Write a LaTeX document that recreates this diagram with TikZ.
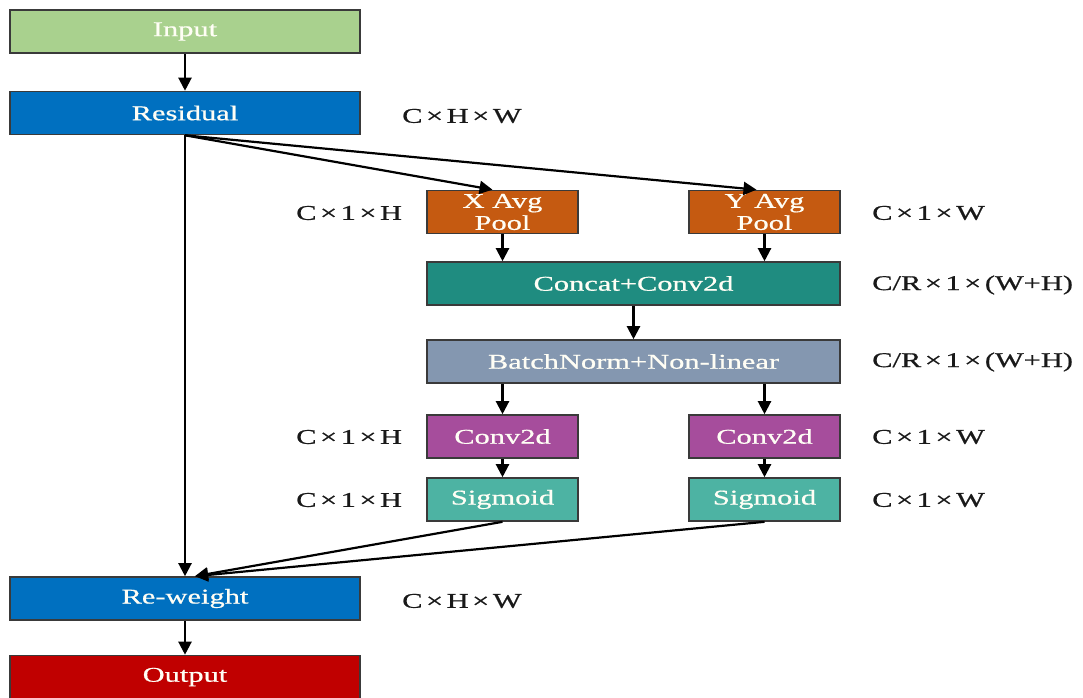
\documentclass[tikz,border=0pt]{standalone}
\usepackage{fontspec}
\setmainfont{Liberation Serif}[FakeStretch=1.45,FakeBold=0.7]
\usetikzlibrary{arrows.meta}
\definecolor{cinput}{HTML}{A9D18E}
\definecolor{cblue}{HTML}{0070C0}
\definecolor{cpool}{HTML}{C55A11}
\definecolor{cconcat}{HTML}{1F8C80}
\definecolor{cbn}{HTML}{8497B0}
\definecolor{cconv}{HTML}{A64D9C}
\definecolor{csig}{HTML}{4DB3A3}
\definecolor{cout}{HTML}{C00000}
\definecolor{cedge}{HTML}{3A3A3A}
\newcommand{\tms}{\,×\,}
\begin{document}
\begin{tikzpicture}[x=1pt,y=-1pt,
  blk/.style={draw=cedge, line width=1.6pt, rectangle, inner sep=0pt,
    text=white!96!yellow, align=center,
    font=\fontsize{21}{22}\selectfont},
  wide/.style={blk, minimum width=350pt, minimum height=43pt},
  mid/.style={blk, minimum width=413pt, minimum height=43pt},
  small/.style={blk, minimum width=151pt, minimum height=43pt},
  dim/.style={font=\fontsize{21}{21}\selectfont, text=black!90, inner sep=0pt, anchor=west},
  arr/.style={line width=2.2pt, -{Triangle[length=13pt,width=13pt]}}]
\useasboundingbox (0,0) rectangle (1083,697);

% main column
\node[wide, fill=cinput] (input) at (185,31.5) {Input};
\node[wide, fill=cblue] (resid) at (185,113) {Residual};
\node[wide, fill=cblue] (rew) at (185,598.5) {Re-weight};
\node[wide, fill=cout] (out) at (185,677) {Output};

% coordinate attention branch
\node[small, fill=cpool] (xpool) at (502.5,212) {X Avg\\Pool};
\node[small, fill=cpool] (ypool) at (764.5,212) {Y Avg\\Pool};
\node[mid, fill=cconcat] (concat) at (633.5,283.5) {Concat+Conv2d};
\node[mid, fill=cbn] (bn) at (633.5,361.5) {BatchNorm+Non-linear};
\node[small, fill=cconv] (convx) at (502.5,436.5) {Conv2d};
\node[small, fill=cconv] (convy) at (764.5,436.5) {Conv2d};
\node[small, fill=csig] (sigx) at (502.5,499.5) {Sigmoid};
\node[small, fill=csig] (sigy) at (764.5,499.5) {Sigmoid};

% tensor shapes
\node[dim] (d1) at (402,116) {C\tms H\tms W};
\node[dim] (d2) at (296,213) {C\tms 1\tms H};
\node[dim] (d3) at (872,213) {C\tms 1\tms W};
\node[dim] (d4) at (872,285) {C/R\tms 1\tms (W+H)};
\node[dim] (d5) at (872,362) {C/R\tms 1\tms (W+H)};
\node[dim] (d6) at (296,437) {C\tms 1\tms H};
\node[dim] (d7) at (872,437) {C\tms 1\tms W};
\node[dim] (d8) at (296,500) {C\tms 1\tms H};
\node[dim] (d9) at (872,500) {C\tms 1\tms W};
\node[dim] (d10) at (402,601) {C\tms H\tms W};

% connectors
\draw[arr] (input) -- (resid);
\draw[arr] (resid.south) -- (rew.north);
\draw[arr] (rew) -- (out);
\draw[arr] (resid.south) -- ([xshift=-10pt]xpool.north);
\draw[arr] (resid.south) -- ([xshift=-8pt]ypool.north);
\draw[arr] (xpool) -- (xpool |- concat.north);
\draw[arr] (ypool) -- (ypool |- concat.north);
\draw[arr] (concat) -- (bn);
\draw[arr] (convx |- bn.south) -- (convx);
\draw[arr] (convy |- bn.south) -- (convy);
\draw[arr] (convx) -- (sigx);
\draw[arr] (convy) -- (sigy);
\draw[arr] (sigx.south) -- ([xshift=10pt]rew.north);
\draw[arr] (sigy.south) -- ([xshift=10pt]rew.north);
\end{tikzpicture}
\end{document}
